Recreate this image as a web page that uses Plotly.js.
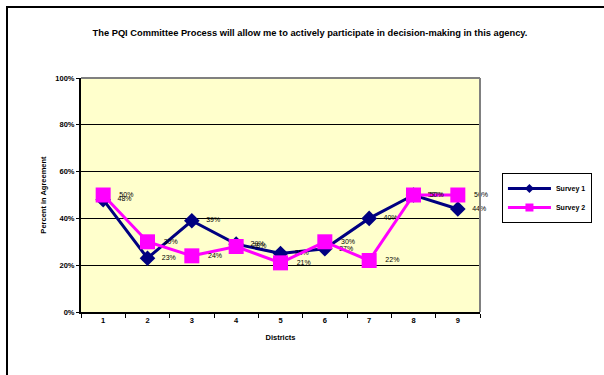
<!DOCTYPE html>
<html>
<head>
<meta charset="utf-8">
<script src="https://cdn.plot.ly/plotly-3.0.1.min.js"></script>
<style>
  html, body { margin: 0; padding: 0; background: #fff; overflow: hidden; }
  #chart { position: absolute; left: 0; top: 0; width: 604px; height: 375px; }
  #frame { position: absolute; left: 6px; top: 6px; width: 700px; height: 500px;
           border: 2px solid #000; pointer-events: none; }
</style>
</head>
<body>
<div id="chart"></div>
<div id="frame"></div>
<script>
// Districts surveyed and percent in agreement per survey
const districts = ["1", "2", "3", "4", "5", "6", "7", "8", "9"];
const survey1 = [48, 23, 39, 29, 25, 27, 40, 50, 44];
const survey2 = [50, 30, 24, 28, 21, 30, 22, 50, 50];
const yTickVals = [0, 20, 40, 60, 80, 100];
const yTickText = ["0%", "20%", "40%", "60%", "80%", "100%"];

const FONT = "Liberation Sans, Arial, sans-serif";
const NAVY = "#000080";
const MAGENTA = "#FF00FF";
// value labels sit a little to the right of each marker
const pct = v => "&nbsp;&nbsp;&nbsp;" + v + "%";
const labelFont = { family: FONT, size: 7, color: "#000" };

const traces = [
  {
    name: "Survey 1", showlegend: false,
    x: districts, y: survey1,
    type: "scatter", mode: "lines+markers+text",
    line: { color: NAVY, width: 3 },
    marker: { symbol: "diamond", size: 12, color: NAVY },
    text: survey1.map(pct), textposition: "middle right",
    textfont: labelFont, cliponaxis: false
  },
  {
    name: "Survey 2", showlegend: false,
    x: districts, y: survey2,
    type: "scatter", mode: "lines+markers+text",
    line: { color: MAGENTA, width: 3 },
    marker: { symbol: "square", size: 15, color: MAGENTA },
    text: survey2.map(pct), textposition: "middle right",
    textfont: labelFont, cliponaxis: false
  },
  // legend keys with smaller markers
  {
    name: "Survey 1", x: [null], y: [null],
    type: "scatter", mode: "lines+markers",
    line: { color: NAVY, width: 3 },
    marker: { symbol: "diamond", size: 7, color: NAVY }
  },
  {
    name: "Survey 2", x: [null], y: [null],
    type: "scatter", mode: "lines+markers",
    line: { color: MAGENTA, width: 3 },
    marker: { symbol: "square", size: 8, color: MAGENTA }
  }
];

const layout = {
  width: 604, height: 375,
  margin: { l: 81, r: 122, t: 78, b: 63 },
  paper_bgcolor: "rgba(0,0,0,0)",
  plot_bgcolor: "#FFFFCC",
  font: { family: FONT, size: 7, color: "#000" },
  showlegend: true,
  title: {
    text: "<b>The PQI Committee Process will allow me to actively participate in decision-making in this agency.</b>",
    font: { family: FONT, size: 9.3, color: "#000" },
    x: 310 / 604, xanchor: "center", xref: "container",
    y: 1 - 33 / 375, yanchor: "middle", yref: "container"
  },
  xaxis: {
    type: "category",
    range: [-0.5, 8.5],
    tickson: "boundaries",
    ticks: "outside", ticklen: 4, tickcolor: "#000", tickwidth: 1,
    showgrid: false, zeroline: false,
    showline: true, linecolor: "#000", linewidth: 2,
    tickfont: { family: FONT, size: 7.5, color: "#000", weight: "bold" },
    title: { text: "<b>Districts</b>", font: { family: FONT, size: 7.5, color: "#000" }, standoff: 11 },
    fixedrange: true
  },
  yaxis: {
    range: [0, 100],
    tickvals: yTickVals, ticktext: yTickText,
    ticks: "outside", ticklen: 3, tickcolor: "#000",
    showgrid: true, gridcolor: "#000", gridwidth: 1,
    zeroline: false,
    showline: true, linecolor: "#000", linewidth: 2,
    tickfont: { family: FONT, size: 7.5, color: "#000", weight: "bold" },
    title: { text: "<b>Percent in Agreement</b>", font: { family: FONT, size: 7.5, color: "#000" }, standoff: 8 },
    fixedrange: true
  },
  legend: {
    x: 1.055, xanchor: "left",
    y: 0.594, yanchor: "top",
    bgcolor: "#fff", bordercolor: "#000", borderwidth: 1,
    font: { family: FONT, size: 7, color: "#000", weight: "bold" },
    itemwidth: 43,
    tracegroupgap: 0
  },
  shapes: [
    // gray frame on the top and right of the plot area
    { type: "line", xref: "paper", yref: "paper", x0: 0, x1: 1, y0: 1, y1: 1,
      line: { color: "#808080", width: 2 } },
    { type: "line", xref: "paper", yref: "paper", x0: 1, x1: 1, y0: 0, y1: 1,
      line: { color: "#808080", width: 2 } }
  ]
};

Plotly.newPlot("chart", traces, layout, { displayModeBar: false, staticPlot: true });
</script>
</body>
</html>
